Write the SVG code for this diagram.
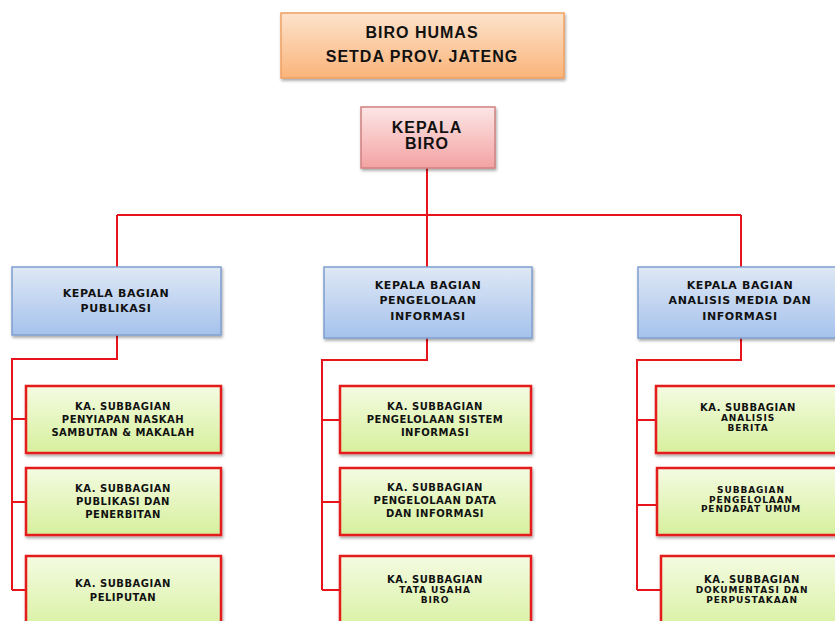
<svg xmlns="http://www.w3.org/2000/svg" width="835" height="621" viewBox="0 0 835 621">
<defs>
<linearGradient id="gOrange" x1="0" y1="0" x2="0" y2="1"><stop offset="0" stop-color="#fde3cc"/><stop offset="1" stop-color="#fab47a"/></linearGradient>
<linearGradient id="gPink" x1="0" y1="0" x2="0" y2="1"><stop offset="0" stop-color="#fce6e6"/><stop offset="1" stop-color="#f4a2a2"/></linearGradient>
<linearGradient id="gBlue" x1="0" y1="0" x2="0" y2="1"><stop offset="0" stop-color="#dfe8f5"/><stop offset="1" stop-color="#a5c2ec"/></linearGradient>
<linearGradient id="gGreen" x1="0" y1="0" x2="0" y2="1"><stop offset="0" stop-color="#f4fbe2"/><stop offset="1" stop-color="#d6f09c"/></linearGradient>
<filter id="sh" x="-10%" y="-10%" width="130%" height="140%"><feDropShadow dx="1" dy="2" stdDeviation="1.5" flood-color="#000" flood-opacity="0.35"/></filter>
</defs>
<style>
.t{font-family:"DejaVu Sans","Liberation Sans",sans-serif;font-weight:bold;fill:#111;text-anchor:middle}
.big{font-family:"Liberation Sans",Arial,sans-serif;font-size:16px;letter-spacing:1px}
.mid{font-size:11px;letter-spacing:0.6px}
.sm{font-size:10px;letter-spacing:0.5px}
.xs{font-size:9px;letter-spacing:0.9px}
.or{fill:url(#gOrange);stroke:#f0a060;stroke-width:1.5;filter:url(#sh)}
.pk{fill:url(#gPink);stroke:#d08080;stroke-width:1.5;filter:url(#sh)}
.bl{fill:url(#gBlue);stroke:#7f9fcf;stroke-width:1.5;filter:url(#sh)}
.gr{fill:url(#gGreen);stroke:#e51a1a;stroke-width:2.5;filter:url(#sh)}
.ln{fill:none;stroke:#e8141c;stroke-width:2}
</style>
<g id="connectors">
<path class="ln" d="M427 168V215M117 215H741M117 215V267M427 215V267M741 215V267"/>
<path class="ln" d="M117 335V359H12V590M12 419H26M12 502H26M12 590H26"/>
<path class="ln" d="M427 338V360H322V590M322 420H340M322 502H340M322 590H340"/>
<path class="ln" d="M741 338V360H637V590M637 420H656M637 505H657M637 590H661"/>
</g>
<g id="biro-humas"><rect class="or" x="281" y="13" width="283" height="65"/>
<text class="t big" x="422" y="38">BIRO HUMAS</text><text class="t big" x="422" y="62">SETDA PROV. JATENG</text></g>
<g id="kepala-biro"><rect class="pk" x="361" y="107" width="134" height="61"/>
<text class="t big" x="427" y="133" letter-spacing="0.5">KEPALA</text><text class="t big" x="427" y="149">BIRO</text></g>
<g id="bagian-publikasi"><rect class="bl" x="12" y="267" width="209" height="68"/>
<text class="t mid" x="116" y="297">KEPALA BAGIAN</text><text class="t mid" x="116" y="312">PUBLIKASI</text></g>
<g id="bagian-pengelolaan"><rect class="bl" x="324" y="267" width="208" height="71"/>
<text class="t mid" x="428" y="289">KEPALA BAGIAN</text><text class="t mid" x="428" y="304">PENGELOLAAN</text><text class="t mid" x="428" y="320">INFORMASI</text></g>
<g id="bagian-analisis"><rect class="bl" x="638" y="267" width="210" height="71"/>
<text class="t mid" x="740" y="289">KEPALA BAGIAN</text><text class="t mid" x="740" y="304">ANALISIS MEDIA DAN</text><text class="t mid" x="740" y="320">INFORMASI</text></g>
<g id="sub-penyiapan"><rect class="gr" x="26" y="386" width="195" height="67"/>
<text class="t sm" x="123" y="410">KA. SUBBAGIAN</text><text class="t sm" x="123" y="423">PENYIAPAN NASKAH</text><text class="t sm" x="123" y="436">SAMBUTAN &amp; MAKALAH</text></g>
<g id="sub-publikasi"><rect class="gr" x="26" y="468" width="195" height="67"/>
<text class="t sm" x="123" y="492">KA. SUBBAGIAN</text><text class="t sm" x="123" y="505">PUBLIKASI DAN</text><text class="t sm" x="123" y="518">PENERBITAN</text></g>
<g id="sub-peliputan"><rect class="gr" x="26" y="556" width="195" height="80"/>
<text class="t sm" x="123" y="587">KA. SUBBAGIAN</text><text class="t sm" x="123" y="601">PELIPUTAN</text></g>
<g id="sub-sistem"><rect class="gr" x="340" y="386" width="191" height="67"/>
<text class="t sm" x="435" y="410">KA. SUBBAGIAN</text><text class="t sm" x="435" y="423">PENGELOLAAN SISTEM</text><text class="t sm" x="435" y="436">INFORMASI</text></g>
<g id="sub-data"><rect class="gr" x="340" y="468" width="191" height="67"/>
<text class="t sm" x="435" y="491">KA. SUBBAGIAN</text><text class="t sm" x="435" y="504">PENGELOLAAN DATA</text><text class="t sm" x="435" y="517">DAN INFORMASI</text></g>
<g id="sub-tatausaha"><rect class="gr" x="340" y="556" width="191" height="80"/>
<text class="t sm" x="435" y="583">KA. SUBBAGIAN</text><text class="t xs" x="435" y="593">TATA USAHA</text><text class="t xs" x="435" y="603">BIRO</text></g>
<g id="sub-berita"><rect class="gr" x="656" y="386" width="190" height="67"/>
<text class="t sm" x="748" y="411">KA. SUBBAGIAN</text><text class="t xs" x="748" y="421">ANALISIS</text><text class="t xs" x="748" y="431">BERITA</text></g>
<g id="sub-pendapat"><rect class="gr" x="657" y="468" width="190" height="67"/>
<text class="t xs" x="751" y="493">SUBBAGIAN</text><text class="t xs" x="751" y="502.5">PENGELOLAAN</text><text class="t xs" x="751" y="512">PENDAPAT UMUM</text></g>
<g id="sub-dokumentasi"><rect class="gr" x="661" y="556" width="190" height="80"/>
<text class="t sm" x="752" y="583">KA. SUBBAGIAN</text><text class="t xs" x="752" y="593">DOKUMENTASI DAN</text><text class="t xs" x="752" y="603">PERPUSTAKAAN</text></g>
</svg>
